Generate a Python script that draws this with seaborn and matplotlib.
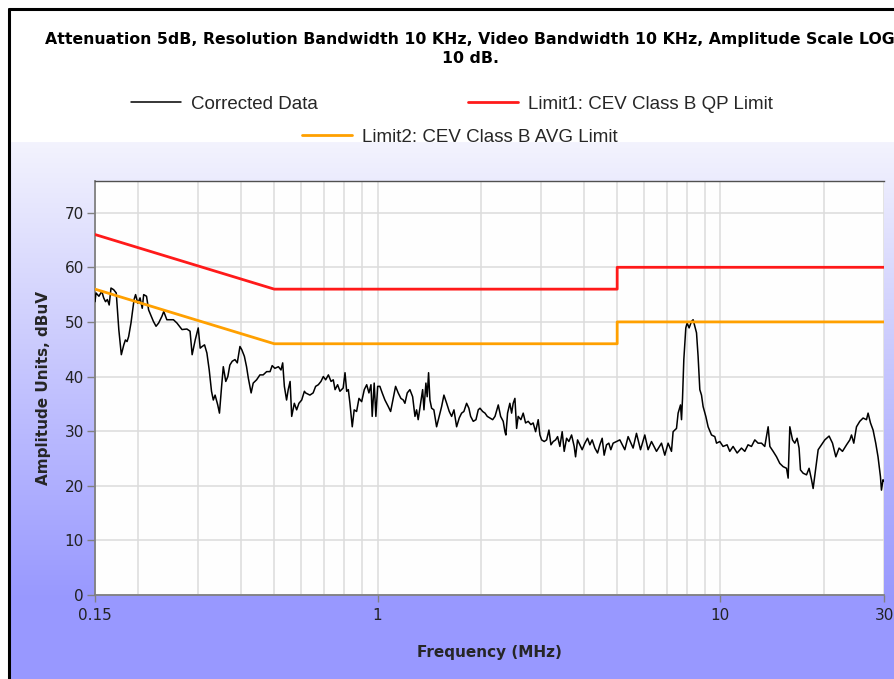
import matplotlib
matplotlib.use("Agg")
import matplotlib.pyplot as plt
import matplotlib.ticker as mticker
from matplotlib.lines import Line2D
import numpy as np
import pandas as pd
import seaborn as sns


FREQ_MHZ = [
    0.150, 0.151, 0.154, 0.157, 0.159, 0.161, 0.163, 0.165, 0.167, 0.170,
    0.173, 0.176, 0.179, 0.182, 0.184, 0.186, 0.188, 0.191, 0.195, 0.197,
    0.200, 0.203, 0.206, 0.208, 0.212, 0.215, 0.219, 0.222, 0.226, 0.230,
    0.235, 0.238, 0.243, 0.254, 0.260, 0.269, 0.278, 0.284, 0.288, 0.294,
    0.300, 0.304, 0.308, 0.313, 0.318, 0.323, 0.328, 0.332, 0.336, 0.342,
    0.346, 0.351, 0.355, 0.361, 0.366, 0.371, 0.377, 0.384, 0.390, 0.397,
    0.402, 0.409, 0.415, 0.420, 0.428, 0.434, 0.444, 0.454, 0.464, 0.475,
    0.486, 0.493, 0.502, 0.514, 0.523, 0.529, 0.535, 0.543, 0.549, 0.556,
    0.562, 0.572, 0.581, 0.590, 0.601, 0.612,
    0.617, 0.635, 0.649, 0.660, 0.672, 0.684, 0.695, 0.706, 0.719, 0.732,
    0.743, 0.752, 0.765, 0.777, 0.794, 0.804, 0.813, 0.822, 0.831, 0.844,
    0.855, 0.869, 0.883, 0.899, 0.915, 0.930, 0.944, 0.957, 0.965, 0.978,
    0.989, 1.001, 1.016, 1.032, 1.051, 1.075, 1.092, 1.111, 1.129, 1.149,
    1.170, 1.189, 1.202, 1.221, 1.243, 1.266, 1.286, 1.300, 1.314, 1.336,
    1.354, 1.366, 1.384, 1.396, 1.409, 1.422, 1.438, 1.460, 1.487, 1.513,
    1.538, 1.562, 1.591, 1.619, 1.645, 1.671, 1.701, 1.731, 1.759, 1.786,
    1.819, 1.847, 1.869, 1.902, 1.937, 1.967, 1.990, 2.026, 2.058, 2.090,
    2.128, 2.167, 2.201, 2.250, 2.286, 2.326, 2.353, 2.368, 2.395, 2.432,
    2.461, 2.487, 2.516, 2.545, 2.572, 2.619, 2.660, 2.703, 2.751, 2.801,
    2.844, 2.891, 2.942, 2.976, 3.010, 3.063, 3.113, 3.162, 3.205, 3.254,
    3.307, 3.351, 3.403, 3.456, 3.503, 3.560, 3.615, 3.681, 3.746, 3.781,
    3.832, 3.892, 3.952, 4.025, 4.098, 4.162, 4.227, 4.304, 4.383, 4.451,
    4.521, 4.581, 4.655, 4.727, 4.791, 4.866, 5.090, 5.263, 5.381, 5.564,
    5.692, 5.848, 6.019, 6.154, 6.296, 6.511, 6.733, 6.884, 7.038, 7.200,
    7.279, 7.447, 7.528, 7.650, 7.702, 7.754, 7.822, 7.927, 7.997, 8.105,
    8.237, 8.326, 8.420, 8.518, 8.609, 8.709, 8.808, 8.904, 9.067, 9.208,
    9.420, 9.632, 9.743, 9.961, 10.18, 10.46, 10.65, 10.89, 11.19, 11.52,
    11.78, 12.04, 12.32, 12.60, 12.88, 13.18, 13.47, 13.78, 13.94, 14.25,
    14.58, 14.90, 15.24, 15.59, 15.76, 15.94, 16.23, 16.48, 16.74, 16.96,
    17.12, 17.43, 17.83, 18.14, 18.44, 18.64, 19.07, 19.28, 19.72, 20.16,
    20.75, 21.23, 21.71, 22.19, 22.70, 23.33, 23.85, 24.12, 24.49, 24.94,
    25.50, 26.07, 26.67, 26.96, 27.40, 27.88, 28.38, 28.82, 29.29, 29.49,
    29.80, 30.00,
]

AMPLITUDE_DBUV = [
    53.7, 55.3, 54.7, 55.6, 54.4, 53.7, 54.1, 53.1, 56.2, 55.9,
    55.3, 48.6, 44.0, 45.8, 46.7, 46.4, 47.3, 49.8, 54.1, 55.0,
    53.4, 54.4, 52.5, 55.0, 54.7, 52.2, 51.0, 50.1, 49.2, 49.8,
    51.0, 51.9, 50.4, 50.4, 49.8, 48.6, 48.7, 48.3, 44.0, 46.7,
    48.9, 45.2, 45.5, 45.8, 44.3, 41.2, 37.3, 35.7, 36.6, 34.8,
    33.3, 38.2, 41.8, 39.1, 40.0, 42.1, 42.8, 43.1, 42.5, 45.5,
    44.9, 43.7, 41.8, 39.7, 37.0, 38.8, 39.4, 40.3, 40.3, 40.9,
    40.9, 42.0, 41.5, 41.8, 41.2, 42.5, 38.2, 35.7, 37.6, 39.1,
    32.7, 35.1, 33.9, 35.1, 35.7, 37.3,
    37.0, 36.6, 37.0, 38.2, 38.5, 39.1, 40.0, 39.4, 40.3, 39.1,
    39.4, 37.6, 38.5, 37.3, 37.9, 40.7, 37.3, 37.6, 35.1, 30.8,
    33.9, 33.6, 36.0, 35.4, 37.6, 38.5, 37.0, 38.5, 32.7, 38.8,
    32.7, 38.2, 38.2, 37.0, 35.7, 34.5, 33.6, 36.0, 38.2, 37.0,
    36.0, 35.7, 35.1, 37.0, 37.6, 36.3, 32.7, 33.9, 32.1, 35.1,
    37.6, 33.9, 38.8, 36.3, 40.7, 35.7, 34.2, 33.9, 30.8, 32.7,
    34.5, 36.6, 35.1, 33.6, 32.7, 33.9, 30.8, 32.4, 33.3, 33.6,
    35.1, 34.2, 32.7, 31.8, 32.1, 33.9, 34.2, 33.6, 33.3, 32.7,
    32.4, 32.1, 32.7, 34.8, 32.7, 31.8, 29.9, 29.3, 33.3, 35.1,
    33.3, 35.1, 36.0, 30.5, 32.7, 32.1, 33.3, 31.5, 31.8, 31.2,
    31.5, 29.9, 32.1, 29.3, 28.4, 28.1, 28.4, 30.2, 27.5, 28.1,
    28.4, 29.0, 27.2, 29.9, 26.3, 28.7, 28.1, 29.3, 27.2, 25.3,
    28.4, 27.5, 26.6, 27.8, 28.7, 27.5, 28.4, 26.9, 26.0, 27.5,
    28.7, 25.6, 27.5, 27.8, 26.6, 27.8, 28.4, 26.6, 29.0, 26.9,
    29.6, 26.6, 29.3, 26.6, 28.1, 26.3, 27.8, 25.6, 27.8, 26.3,
    29.9, 30.5, 33.3, 34.8, 32.1, 36.0, 43.1, 48.9, 49.8, 48.9,
    50.1, 50.4, 49.2, 48.0, 43.7, 37.6, 36.6, 34.5, 32.7, 30.8,
    29.3, 29.0, 27.8, 28.1, 27.2, 27.5, 26.3, 27.2, 26.0, 26.9,
    26.3, 27.5, 27.2, 28.4, 27.8, 27.8, 27.2, 30.8, 27.2, 26.3,
    25.3, 24.1, 23.5, 23.2, 21.4, 30.8, 28.4, 27.8, 28.7, 26.9,
    22.9, 22.3, 22.0, 23.2, 21.1, 19.5, 24.4, 26.6, 27.5, 28.4,
    29.1, 27.8, 25.3, 26.9, 26.3, 27.5, 28.4, 29.3, 27.8, 30.8,
    31.8, 32.4, 32.1, 33.3, 31.5, 30.2, 27.8, 25.3, 21.7, 19.2,
    21.1, 20.8,
]

LIMIT_FREQ_MHZ = [0.15, 0.5, 5.0, 5.0, 30.0]
QP_LIMIT_DBUV = [66, 56, 56, 60, 60]
AVG_LIMIT_DBUV = [56, 46, 46, 50, 50]

X_TICKS = [0.15, 1, 10, 30]
X_TICK_LABELS = ["0.15", "1", "10", "30"]
X_MINOR = [0.2, 0.3, 0.4, 0.5, 0.6, 0.7, 0.8, 0.9,
           2, 3, 4, 5, 6, 7, 8, 9, 20]
Y_TICKS = [0, 10, 20, 30, 40, 50, 60, 70]

TITLE = ("Attenuation 5dB, Resolution Bandwidth 10 KHz, Video Bandwidth 10 KHz, "
         "Amplitude Scale LOG\n10 dB.")

W, H = 894, 679


def draw_background(fig):
    # white header, then a lavender -> blue vertical gradient
    rows = np.arange(H)
    top_c = np.array([243, 243, 253]) / 255
    bot_c = np.array([152, 152, 255]) / 255
    t = np.clip((rows - 142) / (600 - 142), 0, 1)
    col = top_c + (bot_c - top_c) * t[:, None]
    col[rows < 142] = 1.0
    img = np.repeat(col[:, None, :], W, axis=1)
    img[:, :10] = 1.0
    bg = fig.add_axes([0, 0, 1, 1], zorder=-10)
    bg.imshow(img, aspect="auto", extent=(0, 1, 0, 1), origin="upper",
              interpolation="nearest")
    bg.axis("off")

    fig.add_artist(Line2D([9 / W, 1], [1 - 9 / H] * 2, transform=fig.transFigure,
                          color="black", linewidth=2.2))
    fig.add_artist(Line2D([9 / W] * 2, [0, 1 - 9 / H], transform=fig.transFigure,
                          color="black", linewidth=2.2))


def main():
    sns.set_style("white")
    plt.rcParams["font.family"] = ["DejaVu Sans"]

    fig = plt.figure(figsize=(W / 100, H / 100), dpi=100)
    fig.patch.set_facecolor("white")
    draw_background(fig)

    ax = fig.add_axes([95 / W, 1 - 595 / H, (884 - 95) / W, (595 - 181) / H])
    ax.set_facecolor("#fefefe")

    data = pd.DataFrame({"freq": FREQ_MHZ, "amp": AMPLITUDE_DBUV})
    limits = pd.DataFrame({"freq": LIMIT_FREQ_MHZ, "qp": QP_LIMIT_DBUV,
                           "avg": AVG_LIMIT_DBUV})

    sns.lineplot(data=data, x="freq", y="amp", estimator=None, sort=False,
                 color="black", linewidth=1.1, label="Corrected Data", ax=ax,
                 zorder=3)
    sns.lineplot(data=limits, x="freq", y="qp", estimator=None, sort=False,
                 color="#ff1a1a", linewidth=2.0, label="Limit1: CEV Class B QP Limit",
                 ax=ax, zorder=4)
    sns.lineplot(data=limits, x="freq", y="avg", estimator=None, sort=False,
                 color="#ffa000", linewidth=2.0, label="Limit2: CEV Class B AVG Limit",
                 ax=ax, zorder=4)

    ax.set_xscale("log")
    ax.set_xlim(0.15, 30)
    ax.set_ylim(0, 75.8)
    ax.xaxis.set_major_locator(mticker.FixedLocator(X_TICKS))
    ax.xaxis.set_major_formatter(mticker.FixedFormatter(X_TICK_LABELS))
    ax.xaxis.set_minor_locator(mticker.FixedLocator(X_MINOR))
    ax.xaxis.set_minor_formatter(mticker.NullFormatter())
    ax.yaxis.set_major_locator(mticker.FixedLocator(Y_TICKS))

    ax.grid(True, which="both", color="#dcdcdc", linewidth=1.1)
    ax.set_axisbelow(True)
    ax.tick_params(axis="x", which="major", direction="out", length=5, width=1,
                   color="#808080", labelsize=11, labelcolor="#222222", pad=4)
    ax.tick_params(axis="x", which="minor", length=0)
    ax.tick_params(axis="y", direction="out", length=6, width=1, color="#808080",
                   labelsize=11, labelcolor="#222222", pad=2, left=True)
    ax.tick_params(axis="x", bottom=True)

    for side in ("left", "bottom"):
        ax.spines[side].set_color("#808080")
        ax.spines[side].set_linewidth(1.3)
    ax.spines["top"].set_color("#505050")
    ax.spines["top"].set_linewidth(1.0)
    ax.spines["right"].set_visible(False)

    ax.set_xlabel("Frequency (MHz)", fontsize=11, fontweight="bold", labelpad=16)
    ax.set_ylabel("Amplitude Units, dBuV", fontsize=11, fontweight="bold", labelpad=10)

    fig.text(470 / W, 1 - 49 / H, TITLE, ha="center", va="center", fontsize=11.3,
             fontweight="bold", linespacing=1.35, color="black")

    handles, labels = ax.get_legend_handles_labels()
    ax.get_legend().remove()
    leg_font = {"family": ["Liberation Sans", "DejaVu Sans"], "size": 13.5}
    fig.legend(handles[:2], labels[:2], ncol=2, loc="center",
               bbox_to_anchor=(452 / W, 1 - 104 / H), frameon=False, prop=leg_font,
               handlelength=2.67, handletextpad=0.53, columnspacing=8.0)
    fig.legend(handles[2:], labels[2:], loc="center",
               bbox_to_anchor=(460 / W, 1 - 137 / H), frameon=False, prop=leg_font,
               handlelength=2.67, handletextpad=0.53)

    fig.savefig("out.png", dpi=100)
    plt.close(fig)


if __name__ == "__main__":
    main()
